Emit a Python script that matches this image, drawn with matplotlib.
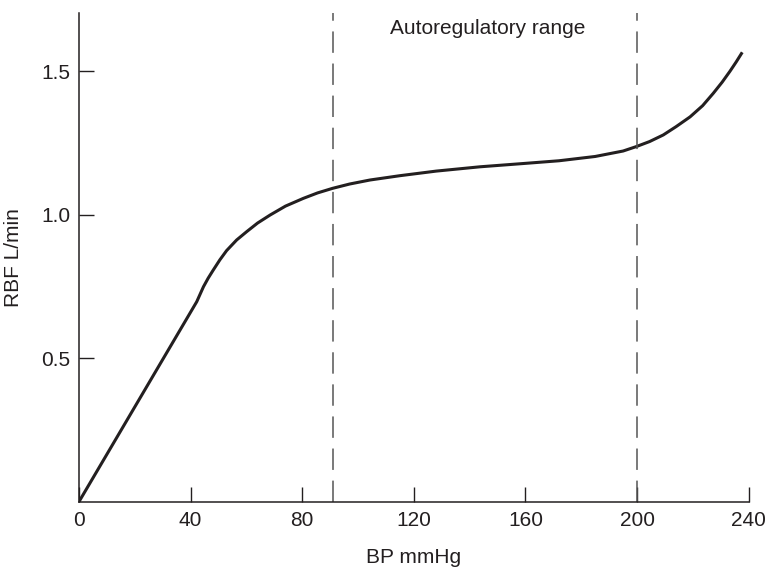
import matplotlib
matplotlib.use("Agg")
import matplotlib.pyplot as plt

# Datos
bp = [0, 42.2, 44.6, 46.3, 48.1, 50.5, 52.9, 56.5, 60.1, 64.0, 68.5, 74.0, 80.4, 85.5,
      90.9, 97.0, 104.3, 115.0, 128.0, 143.7, 160.0, 172.0, 185.0, 195.0, 199.6, 204.5,
      209.4, 214.0, 219.0, 223.5, 227.3, 230.5, 233.3, 235.5, 237.7]
rbf = [0, 0.697, 0.749, 0.779, 0.807, 0.843, 0.875, 0.912, 0.941, 0.971, 0.999, 1.030,
       1.057, 1.076, 1.092, 1.107, 1.121, 1.136, 1.152, 1.167, 1.179, 1.188, 1.203,
       1.222, 1.237, 1.255, 1.278, 1.307, 1.341, 1.380, 1.423, 1.462, 1.500, 1.532,
       1.566]
limites = [91, 200]
xticks = [0, 40, 80, 120, 160, 200, 240]
yticks = [0.5, 1.0, 1.5]

plt.rcParams['font.family'] = ['Liberation Sans', 'DejaVu Sans']
negro = '#231f20'

fig = plt.figure(figsize=(7.7, 5.67), dpi=100)
ax = fig.add_axes([0.1026, 0.1152, 0.8697, 0.8624])

ax.plot(bp, rbf, color=negro, linewidth=2.2, solid_capstyle='butt',
        solid_joinstyle='round')
for x in limites:
    ax.axvline(x, color='#555555', linewidth=1.1, dashes=(14, 7))

ax.text(146.4, 1.65, 'Autoregulatory range', fontsize=15, color=negro,
        ha='center', va='center')

ax.set_xlim(0, 240)
ax.set_ylim(0, 1.704)
ax.set_xticks(xticks)
ax.set_yticks(yticks)
ax.set_yticklabels(['0.5', '1.0', '1.5'])
ax.tick_params(direction='in', length=11, width=1, color=negro, labelsize=15,
               labelcolor=negro)
ax.tick_params(axis='x', pad=7)
ax.tick_params(axis='y', pad=6)

for lado in ['top', 'right']:
    ax.spines[lado].set_visible(False)
for lado in ['left', 'bottom']:
    ax.spines[lado].set_linewidth(1.1)
    ax.spines[lado].set_color(negro)

ax.set_xlabel('BP mmHg', fontsize=15, color=negro, labelpad=13)
ax.set_ylabel('RBF L/min', fontsize=15, color=negro, labelpad=13)

fig.savefig('out.png', dpi=100)
